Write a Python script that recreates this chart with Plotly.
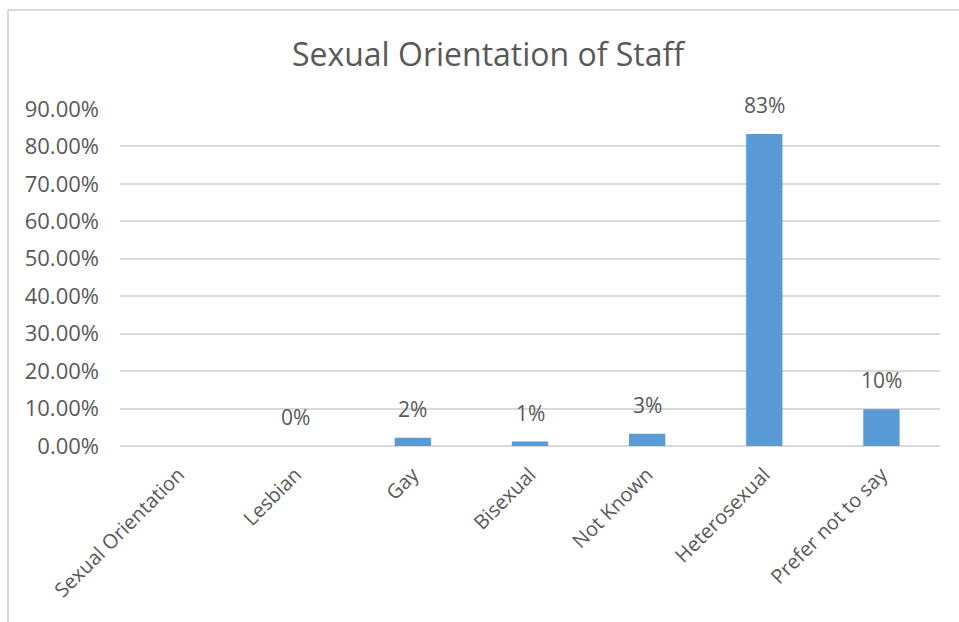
import plotly.graph_objects as go

# Share of staff by sexual orientation
categories = ["Sexual Orientation", "Lesbian", "Gay", "Bisexual",
              "Not Known", "Heterosexual", "Prefer not to say"]
shares = [None, 0.0, 0.022, 0.012, 0.033, 0.833, 0.098]

y_ticks = [0.0, 0.1, 0.2, 0.3, 0.4, 0.5, 0.6, 0.7, 0.8, 0.9]

W, H = 959, 622
ML, MR, MT, MB = 120, 19, 109, 176
FONT = "'Open Sans', sans-serif"
TXT = "#595959"
GRID = "#d9d9d9"
BAR = "#5b9bd5"

fig = go.Figure()
fig.add_trace(go.Bar(
    x=categories,
    y=shares,
    width=0.31,
    marker=dict(color=BAR, line=dict(width=0)),
    hoverinfo="x+y",
))

# value labels above each bar
for cat, val in zip(categories, shares):
    if val is None:
        continue
    fig.add_annotation(
        x=cat, y=val, xref="x", yref="y",
        text=f"{val:.0%}", showarrow=False,
        yanchor="bottom", yshift=13,
        font=dict(family=FONT, size=21, color=TXT),
    )

# chart frame: left and top edges
pw = W - ML - MR
ph = H - MT - MB
x_frame = (8 - ML) / pw
y_frame = 1 + (MT - 10) / ph
fig.add_shape(type="line", xref="paper", yref="paper",
              x0=x_frame, x1=(W - ML) / pw + 0.05, y0=y_frame, y1=y_frame,
              line=dict(color=GRID, width=2), layer="below")
fig.add_shape(type="line", xref="paper", yref="paper",
              x0=x_frame, x1=x_frame, y0=y_frame, y1=-MB / ph - 0.05,
              line=dict(color=GRID, width=2), layer="below")

fig.update_layout(
    width=W, height=H,
    margin=dict(l=ML, r=MR, t=MT, b=MB, pad=0),
    paper_bgcolor="white", plot_bgcolor="white",
    showlegend=False,
    font=dict(family=FONT, size=20, color=TXT),
    title=dict(
        text="Sexual Orientation of Staff",
        x=488 / W, xref="container", xanchor="center",
        y=1 - 55 / H, yref="container", yanchor="middle",
        font=dict(family=FONT, size=32, color=TXT),
    ),
    bargap=0.69,
)

fig.update_xaxes(
    type="category",
    tickangle=-45,
    showgrid=False,
    showline=False,
    zeroline=False,
    ticks="",
    ticklabelstandoff=12,
    tickfont=dict(family=FONT, size=20, color=TXT),
)
fig.update_yaxes(
    range=[0, 0.9],
    tickvals=y_ticks,
    tickformat=".2%",
    showgrid=True, gridcolor=GRID, gridwidth=2,
    zeroline=True, zerolinecolor=GRID, zerolinewidth=2,
    showline=False,
    ticks="",
    ticklabelstandoff=20,
    tickfont=dict(family=FONT, size=22, color=TXT),
)

fig.write_html("out.html")
